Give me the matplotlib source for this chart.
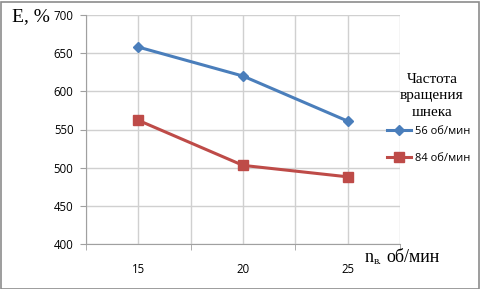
import matplotlib

matplotlib.use("Agg")

import matplotlib.pyplot as plt
from matplotlib.patches import Rectangle

# data
speeds = [15, 20, 25]
e_56 = [658, 620, 561]
e_84 = [562, 503, 488]
series_labels = ["56 об/мин", "84 об/мин"]
y_ticks = [400, 450, 500, 550, 600, 650, 700]

BLUE = "#4a7ebb"
RED = "#be4b48"
GRID = "#d0d0d0"
SANS = "Open Sans"
SERIF = "Liberation Serif"

W, H = 481, 289
fig = plt.figure(figsize=(W / 100, H / 100), dpi=100)
fig.patches.append(Rectangle((0.5 / W, 0.5 / H), 1 - 2 / W, 1 - 2.5 / H,
                             transform=fig.transFigure, fill=False,
                             edgecolor="#8c8c8c", linewidth=1.2))

ax = fig.add_axes([86 / W, 45 / H, 314 / W, 229 / H])
ax.plot(speeds, e_56, color=BLUE, linewidth=2.2, marker="D", markersize=5,
        label=series_labels[0])
ax.plot(speeds, e_84, color=RED, linewidth=2.2, marker="s", markersize=6.5,
        label=series_labels[1])

ax.set_xlim(12.5, 27.5)
ax.set_ylim(400, 700)
ax.set_yticks(y_ticks)
ax.set_xticks(speeds)
ax.set_xticks([12.5, 17.5, 22.5, 27.5], minor=True)
ax.tick_params(axis="x", which="major", length=0, pad=14, labelsize=8.3)
ax.tick_params(axis="x", which="minor", length=4, color="#a0a0a0", direction="out")
ax.tick_params(axis="y", length=4, color="#a0a0a0", pad=5, labelsize=8.3)
for lab in ax.get_xticklabels() + ax.get_yticklabels():
    lab.set_fontfamily(SANS)

for x in [12.5, 15, 17.5, 20, 22.5, 25, 27.5]:
    ax.axvline(x, color=GRID, linewidth=1, zorder=0)
for y in y_ticks:
    ax.axhline(y, color=GRID, linewidth=1, zorder=0)
for side in ["top", "right"]:
    ax.spines[side].set_visible(False)
ax.spines["left"].set_color("#a0a0a0")
ax.spines["bottom"].set_color("#a0a0a0")

fig.text(12 / W, 1 - 17 / H, "E, %", fontsize=14, family=SERIF, va="center")

fig.text(432 / W, 1 - 96 / H, "Частота\nвращения\nшнека", fontsize=11,
         family=SERIF, ha="center", va="center", linespacing=1.35)

leg = ax.legend(loc="upper left", bbox_to_anchor=(387 / W, 1 - 126 / H),
                bbox_transform=fig.transFigure, frameon=False,
                prop={"family": SANS, "size": 8}, handlelength=2.2,
                handletextpad=0.3, labelspacing=1.45, borderpad=0,
                borderaxespad=0)

fig.text(365 / W, 1 - 257 / H, "n", fontsize=13, family=SERIF, va="center")
fig.text(374 / W, 1 - 262 / H, "в.", fontsize=8, family=SERIF, va="center")
fig.text(386 / W, 1 - 257 / H, "об/мин", fontsize=13, family=SERIF, va="center")

fig.savefig("out.png", dpi=100)
